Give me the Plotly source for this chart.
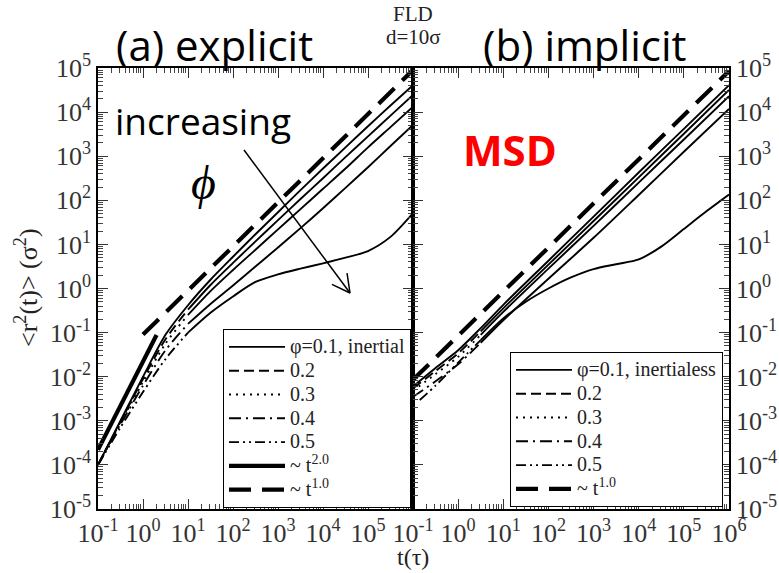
import math
import plotly.graph_objects as go

# ---------------- data ----------------
# (a) explicit, inertial
LEFT_T = [0.1, 0.316, 1, 3.16, 10, 31.6, 100, 316, 1000, 3160, 1e4, 3.16e4, 1e5, 3.16e5, 1e6]
LEFT_PHI01 = [1e-4, 1e-3, 1e-2, 0.089, 0.417, 1.58, 5.25, 17.0, 53.7, 170, 525, 1585, 4786, 14125, 40738]
LEFT_PHI02 = [1e-4, 9.5e-4, 8.9e-3, 0.0708, 0.331, 1.20, 3.80, 11.7, 35.5, 107, 316, 955, 2818, 8318, 24547]
LEFT_PHI03 = [1e-4, 8.9e-4, 7.6e-3, 0.0562, 0.251, 0.871, 2.63, 7.59, 21.9, 63.1, 182, 525, 1585, 4571, 13183]
LEFT_PHI04 = [1e-4, 8.3e-4, 6.3e-3, 0.0398, 0.158, 0.447, 1.17, 3.16, 8.51, 23.4, 66.1, 191, 562, 1698, 5129]
LEFT_PHI05 = [1e-4, 7.1e-4, 4.5e-3, 0.0251, 0.1, 0.282, 0.661, 1.41, 2.09, 2.82, 3.72, 5.01, 7.08, 14.8, 51.3]
LEFT_T2_T = [0.1, 2.0]
LEFT_T2_M = [2.2e-4, 0.088]
LEFT_T1_T = [1, 1e6]
LEFT_T1_M = [0.09, 9e4]

# (b) implicit, inertialess
RIGHT_T = [0.1, 0.316, 1, 3.16, 10, 100, 1000, 1e4, 1e5, 1e6]
RIGHT_PHI01 = [6.0e-3, 0.0158, 0.0398, 0.126, 0.427, 4.27, 42.7, 427, 4169, 40738]
RIGHT_PHI02 = [5.4e-3, 0.0135, 0.0339, 0.107, 0.355, 3.47, 33.9, 331, 3236, 31623]
RIGHT_PHI03 = [4.8e-3, 0.0115, 0.0282, 0.0891, 0.295, 2.82, 26.3, 251, 2399, 22909]
RIGHT_PHI04 = [3.5e-3, 7.9e-3, 0.0191, 0.0589, 0.191, 1.66, 14.1, 132, 1259, 11749]
RIGHT_T5 = [0.141, 0.316, 1, 3.16, 10, 31.6, 100, 316, 1000, 3162, 1e4, 3.16e4, 1e5, 3.16e5, 1e6]
RIGHT_PHI05 = [2.95e-3, 6.3e-3, 0.0209, 0.0676, 0.209, 0.501, 1.0, 1.78, 2.75, 3.55, 4.57, 8.91, 22.4, 56.2, 135]
RIGHT_T1_T = [0.1, 1e6]
RIGHT_T1_M = [8.5e-3, 8.5e4]

X_TICKS = [0.1, 1, 10, 100, 1e3, 1e4, 1e5, 1e6]
X_TICKTEXT_RIGHT = ["10<sup>-1</sup>", "10<sup>0</sup>", "10<sup>1</sup>", "10<sup>2</sup>",
                    "10<sup>3</sup>", "10<sup>4</sup>", "10<sup>5</sup>", "10<sup>6</sup>"]
# the left panel's 10^6 label sits under the right panel's 10^-1 label
X_TICKTEXT_LEFT = X_TICKTEXT_RIGHT[:-1] + [""]
Y_TICKS = [1e-5, 1e-4, 1e-3, 1e-2, 1e-1, 1, 10, 100, 1e3, 1e4, 1e5]
Y_TICKTEXT = ["10<sup>-5</sup>", "10<sup>-4</sup>", "10<sup>-3</sup>", "10<sup>-2</sup>",
              "10<sup>-1</sup>", "10<sup>0</sup>", "10<sup>1</sup>", "10<sup>2</sup>",
              "10<sup>3</sup>", "10<sup>4</sup>", "10<sup>5</sup>"]

# ---------------- layout helpers ----------------
W, H = 779, 573
def px(x):
    return x / W
def py(y):
    return 1 - y / H

SERIF = "Liberation Serif, Times New Roman, serif"
SANS = "Open Sans, Lato, sans-serif"

DASHES = {
    "0.2": "10px,5px",
    "0.3": "2px,5px",
    "0.4": "12px,5px,2px,5px",
    "0.5": "10px,4px,2px,4px,2px,4px",
}
LW = 1.9
GW = 4.2

def lg(text):
    return '<span style="font-size:20px">' + text + '</span>'

fig = go.Figure()

def add_curve(t, m, name, dash, xa, ya, leg, split):
    if dash == "solid":
        fig.add_trace(go.Scatter(x=t, y=m, mode="lines", name=lg(name), legend=leg,
                                 line=dict(color="black", width=LW, shape="spline", smoothing=0.8),
                                 xaxis=xa, yaxis=ya))
        return
    fig.add_trace(go.Scatter(x=t[:split + 1], y=m[:split + 1], mode="lines", name=lg(name),
                             legend=leg,
                             line=dict(color="black", width=LW, dash=dash, shape="spline", smoothing=0.8),
                             xaxis=xa, yaxis=ya))
    fig.add_trace(go.Scatter(x=t[split:], y=m[split:], mode="lines", showlegend=False,
                             legend=leg,
                             line=dict(color="black", width=LW, shape="spline", smoothing=0.8),
                             xaxis=xa, yaxis=ya))

# left panel
add_curve(LEFT_T, LEFT_PHI01, "\u03c6=0.1, inertial", "solid", "x", "y", "legend", 0)
add_curve(LEFT_T, LEFT_PHI02, "0.2", DASHES["0.2"], "x", "y", "legend", 4)
add_curve(LEFT_T, LEFT_PHI03, "0.3", DASHES["0.3"], "x", "y", "legend", 4)
add_curve(LEFT_T, LEFT_PHI04, "0.4", DASHES["0.4"], "x", "y", "legend", 4)
add_curve(LEFT_T, LEFT_PHI05, "0.5", DASHES["0.5"], "x", "y", "legend", 4)
fig.add_trace(go.Scatter(x=LEFT_T2_T, y=LEFT_T2_M, mode="lines", name=lg("~ t<sup>2.0</sup>"),
                         legend="legend", line=dict(color="black", width=GW),
                         xaxis="x", yaxis="y"))
fig.add_trace(go.Scatter(x=LEFT_T1_T, y=LEFT_T1_M, mode="lines", name=lg("~ t<sup>1.0</sup>"),
                         legend="legend", line=dict(color="black", width=GW, dash="22px,11px"),
                         xaxis="x", yaxis="y"))

# right panel
add_curve(RIGHT_T, RIGHT_PHI01, "\u03c6=0.1, inertialess", "solid", "x2", "y2", "legend2", 0)
add_curve(RIGHT_T, RIGHT_PHI02, "0.2", DASHES["0.2"], "x2", "y2", "legend2", 3)
add_curve(RIGHT_T, RIGHT_PHI03, "0.3", DASHES["0.3"], "x2", "y2", "legend2", 3)
add_curve(RIGHT_T, RIGHT_PHI04, "0.4", DASHES["0.4"], "x2", "y2", "legend2", 3)
add_curve(RIGHT_T5, RIGHT_PHI05, "0.5", DASHES["0.5"], "x2", "y2", "legend2", 3)
fig.add_trace(go.Scatter(x=RIGHT_T1_T, y=RIGHT_T1_M, mode="lines", name=lg("~ t<sup>1.0</sup>"),
                         legend="legend2", line=dict(color="black", width=GW, dash="22px,11px"),
                         xaxis="x2", yaxis="y2"))

# minor tick positions
minor_x = [d * 10 ** k for k in range(-1, 6) for d in range(2, 10)]
minor_y = [d * 10 ** k for k in range(-5, 5) for d in range(2, 10)]

tickfont = dict(family=SERIF, size=26, color="#333")
common_axis = dict(type="log", showgrid=False, zeroline=False, showline=True,
                   linecolor="black", linewidth=1.5, mirror="allticks",
                   ticks="inside", ticklen=10, tickwidth=1.3, tickcolor="#333",
                   tickfont=tickfont, automargin=False)
minor_common = dict(ticks="inside", ticklen=5, tickcolor="#444", tickwidth=1)

legend_common = dict(bgcolor="white", bordercolor="black", borderwidth=1,
                     font=dict(family=SERIF, size=16, color="#222"),
                     itemwidth=56, tracegroupgap=0, traceorder="normal")

fig.update_layout(
    width=W, height=H,
    margin=dict(l=0, r=0, t=0, b=0, pad=0, autoexpand=False),
    paper_bgcolor="white", plot_bgcolor="white",
    xaxis=dict(domain=[px(98), px(413)], range=[-1, 6], anchor="y",
               tickvals=X_TICKS, ticktext=X_TICKTEXT_LEFT,
               minor=dict(tickvals=minor_x, **minor_common), **common_axis),
    yaxis=dict(domain=[py(509), py(68)], range=[-5, 5], anchor="x",
               tickvals=Y_TICKS, ticktext=Y_TICKTEXT,
               minor=dict(tickvals=minor_y, **minor_common), **common_axis),
    xaxis2=dict(domain=[px(413), px(729)], range=[-1, 6], anchor="y2",
                tickvals=X_TICKS, ticktext=X_TICKTEXT_RIGHT,
                minor=dict(tickvals=minor_x, **minor_common), **common_axis),
    yaxis2=dict(domain=[py(509), py(68)], range=[-5, 5], anchor="x2", side="right",
                tickvals=Y_TICKS, ticktext=Y_TICKTEXT,
                minor=dict(tickvals=minor_y, **minor_common), **common_axis),
    legend=dict(x=px(411), y=py(508), xanchor="right", yanchor="bottom", **legend_common),
    legend2=dict(x=px(723), y=py(507), xanchor="right", yanchor="bottom", **legend_common),
    showlegend=True,
)

def note(x, y, text, size, family=SANS, color="black", **kw):
    fig.add_annotation(x=px(x), y=py(y), xref="paper", yref="paper", text=text,
                       showarrow=False, font=dict(family=family, size=size, color=color),
                       xanchor="center", yanchor="middle", **kw)

note(215, 44, "(a) explicit", 42)
note(584, 44, "(b) implicit", 42)
note(413, 14, "FLD", 21, family=SERIF, color="#222")
note(413, 37, "d=10\u03c3", 21, family=SERIF, color="#222")
note(203, 121, "increasing", 37)
note(203, 182, "<i>\u03d5</i>", 48, family=SERIF)
note(510, 150, "<b>MSD</b>", 42, color="red")
note(26, 288, "&lt;r<sup>2</sup>(t)&gt; (\u03c3<sup>2</sup>)", 26, family=SERIF, color="#222",
     textangle=-90)
note(413, 557, "t(\u03c4)", 24, family=SERIF, color="#222")

# the "increasing phi" arrow
x0, y0, x1, y1 = 244, 150, 350, 293
fig.add_shape(type="line", xref="paper", yref="paper",
              x0=px(x0), y0=py(y0), x1=px(x1), y1=py(y1),
              line=dict(color="black", width=1.5))
ang = math.atan2(y1 - y0, x1 - x0)
for da in (math.radians(28), -math.radians(28)):
    hx = x1 - 20 * math.cos(ang + da)
    hy = y1 - 20 * math.sin(ang + da)
    fig.add_shape(type="line", xref="paper", yref="paper",
                  x0=px(hx), y0=py(hy), x1=px(x1), y1=py(y1),
                  line=dict(color="black", width=1.5))

# the page's default 8px body margin would push the 779x573 figure out of the window
fig.write_html("out.html",
               config={"displayModeBar": False},
               post_script="document.body.style.margin='0';document.body.style.overflow='hidden';")
